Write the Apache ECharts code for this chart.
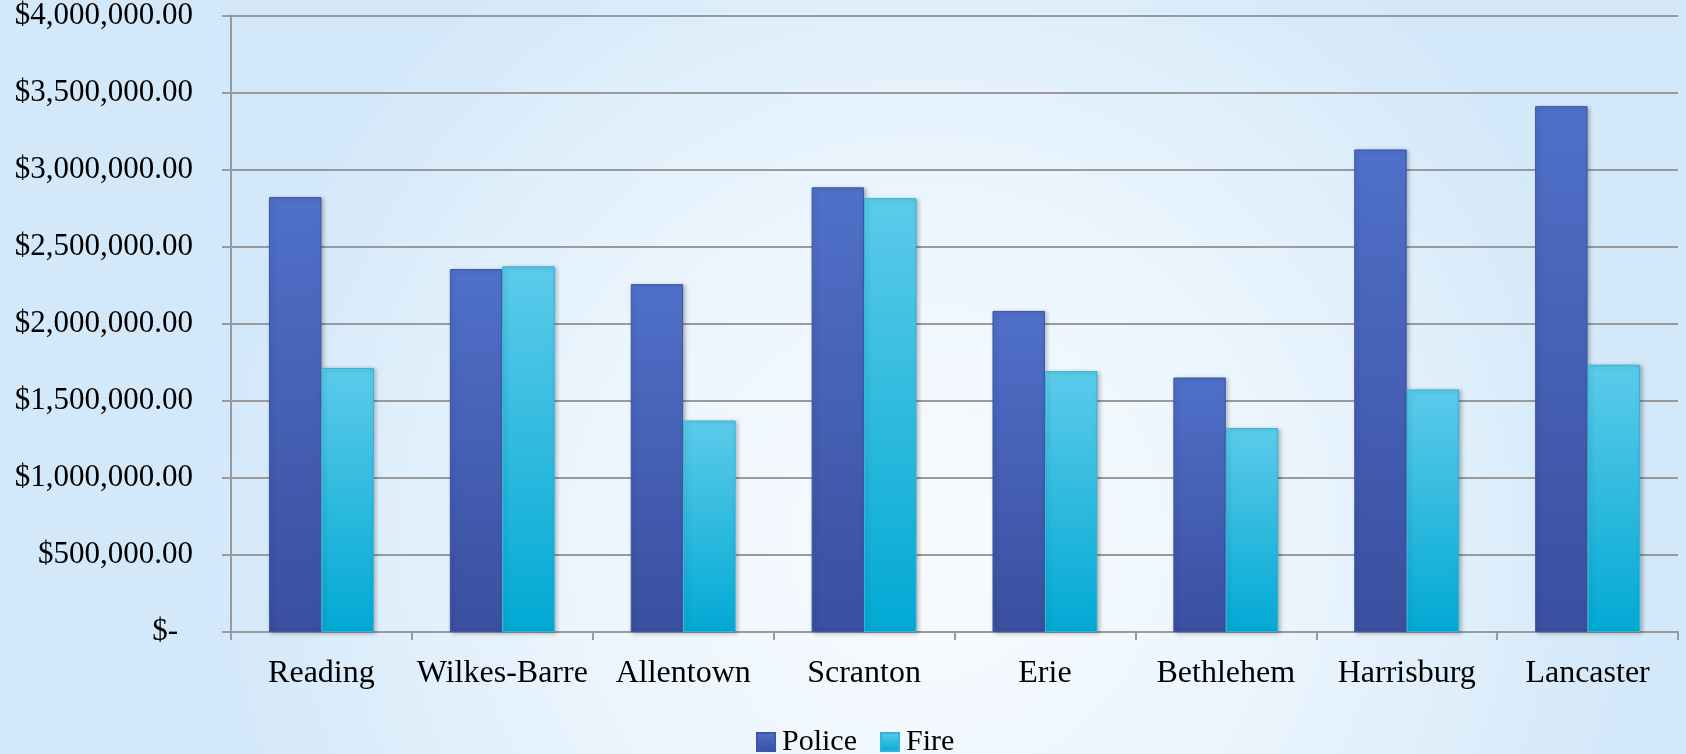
<!DOCTYPE html>
<html>
<head>
<meta charset="utf-8">
<script src="https://cdn.jsdelivr.net/npm/echarts@6/dist/echarts.min.js"></script>
<style>
html,body{margin:0;padding:0;width:1686px;height:754px;overflow:hidden;}
#c{width:1686px;height:754px;}
</style>
</head>
<body>
<div id="c"></div>
<script>
const categories = ['Reading','Wilkes-Barre','Allentown','Scranton','Erie','Bethlehem','Harrisburg','Lancaster'];
const policeValues = [2822000, 2355000, 2257000, 2885000, 2083000, 1651000, 3131000, 3412000];
const fireValues = [1713000, 2373000, 1372000, 2815000, 1693000, 1323000, 1574000, 1734000];
const seriesNames = ['Police','Fire'];
const yMin = 0, yMax = 4000000, yInterval = 500000;

const FONT = '"Liberation Serif", "DejaVu Serif", serif';

function money(v){
  if (v === 0) return '{z|$-}';
  return '$' + v.toLocaleString('en-US',{minimumFractionDigits:2, maximumFractionDigits:2});
}

const chart = echarts.init(document.getElementById('c'), null, {renderer:'canvas'});
chart.setOption({
  animation:false,
  backgroundColor:{
    type:'radial', x:0.55, y:0.72, r:0.95,
    colorStops:[
      {offset:0, color:'#f8fbfe'},
      {offset:0.5, color:'#ebf5fd'},
      {offset:1, color:'#d3e8f9'}
    ]
  },
  grid:{left:231, right:8, top:15, bottom:122, containLabel:false},
  legend:{
    data:seriesNames,
    top:722, left:751,
    itemWidth:18, itemHeight:18, itemGap:23,
    icon:'rect',
    textStyle:{fontFamily:FONT, fontSize:30, color:'#000', padding:[0,0,0,2]}
  },
  xAxis:{
    type:'category',
    data:categories,
    boundaryGap:true,
    axisLine:{show:true, lineStyle:{color:'#9a9a9a', width:2}},
    axisTick:{show:true, alignWithLabel:false, length:8, lineStyle:{color:'#9a9a9a', width:2}},
    axisLabel:{fontFamily:FONT, fontSize:32, color:'#000', margin:26, interval:0}
  },
  yAxis:{
    type:'value',
    min:yMin, max:yMax, interval:yInterval,
    axisLine:{show:true, lineStyle:{color:'#9a9a9a', width:2}},
    axisTick:{show:true, length:9, lineStyle:{color:'#9a9a9a', width:2}},
    splitLine:{show:true, lineStyle:{color:'#9a9a9a', width:2}},
    axisLabel:{
      fontFamily:FONT, fontSize:31, color:'#000', margin:38,
      formatter:money,
      rich:{z:{fontFamily:FONT, fontSize:31, color:'#000', padding:[0,15,0,0]}}
    }
  },
  series:[
    {
      name:seriesNames[0], type:'bar', data:policeValues,
      barGap:'0%', barCategoryGap:'42%',
      itemStyle:{
        color:{type:'linear',x:0,y:0,x2:0,y2:1,colorStops:[{offset:0,color:'#5070c9'},{offset:1,color:'#3a4f9f'}]},
        borderColor:'#3d56a6', borderWidth:1,
        shadowColor:'rgba(0,0,0,0.25)', shadowBlur:4, shadowOffsetX:2, shadowOffsetY:1
      }
    },
    {
      name:seriesNames[1], type:'bar', data:fireValues,
      barGap:'0%', barCategoryGap:'42%',
      itemStyle:{
        color:{type:'linear',x:0,y:0,x2:0,y2:1,colorStops:[{offset:0,color:'#5ccbea'},{offset:1,color:'#02a9d4'}]},
        borderColor:'#2fb6dc', borderWidth:1,
        shadowColor:'rgba(0,0,0,0.25)', shadowBlur:4, shadowOffsetX:2, shadowOffsetY:1
      }
    }
  ]
});
</script>
</body>
</html>
